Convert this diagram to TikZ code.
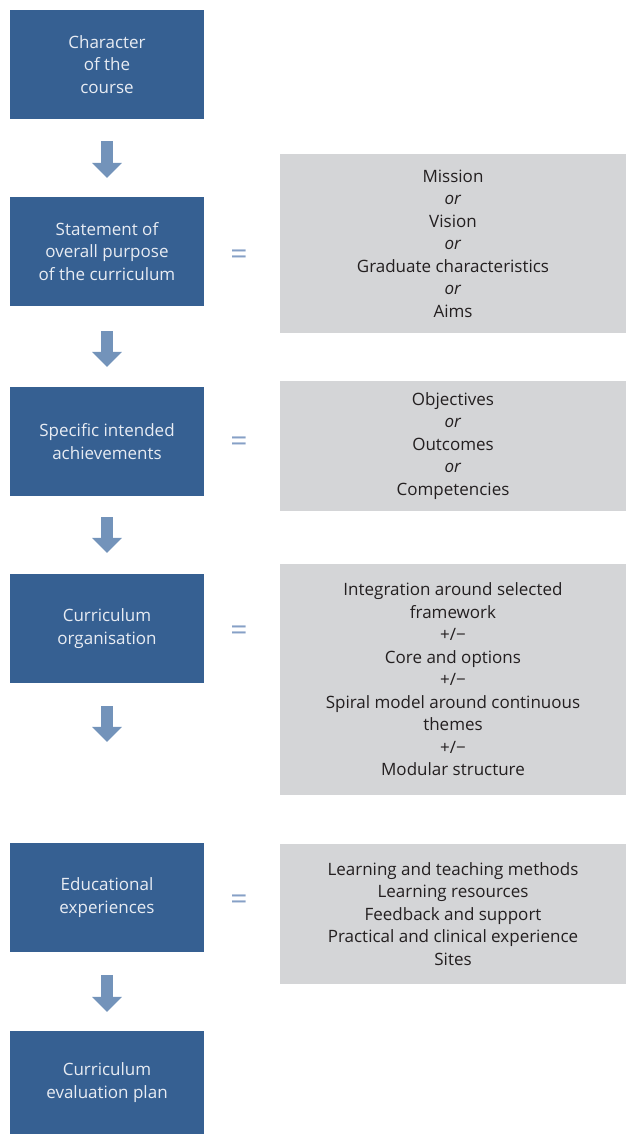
\documentclass[tikz,border=0pt]{standalone}
\usepackage{fontspec}
\setmainfont{Open Sans}
\usetikzlibrary{arrows.meta}
\definecolor{boxblue}{HTML}{366092}
\definecolor{boxgrey}{HTML}{D4D5D7}
\definecolor{arrowblue}{HTML}{7393BA}
\definecolor{eqblue}{HTML}{86A0C6}
\definecolor{paletext}{HTML}{E8ECF3}
\definecolor{darktext}{HTML}{231F20}
\begin{document}
\begin{tikzpicture}[x=1pt, y=-1pt,
    stage/.style={fill=boxblue, text=paletext, minimum width=194pt, minimum height=109pt,
      align=center, inner sep=0pt, font=\fontsize{17}{22.5}\selectfont},
    detail/.style={fill=boxgrey, text=darktext, minimum width=346pt,
      align=center, inner sep=0pt, font=\fontsize{17}{22.5}\selectfont},
    flow/.style={arrowblue, line width=12pt, -{Triangle[width=29pt, length=15pt]}},
    equals/.style={text=eqblue, inner sep=0pt, font=\fontsize{30}{30}\selectfont}]
  \useasboundingbox (0,0) rectangle (626,1134);
  % stages on the left
  \node[stage] (course) at (107,64.5) {Character\\of the\\course};
  \node[stage] (purpose) at (107,251.5) {Statement of\\overall purpose\\of the curriculum};
  \node[stage] (achieve) at (107,441.5) {Specific intended\\achievements};
  \node[stage] (organise) at (107,628.5) {Curriculum\\organisation};
  \node[stage] (experience) at (107,897.5) {Educational\\experiences};
  \node[stage, minimum height=103pt] (evaluation) at (107,1082.5) {Curriculum\\evaluation plan};
  % what each stage means
  \node[detail, minimum height=179pt] (mission) at (453,243.5)
    {Mission\\\textit{or}\\Vision\\\textit{or}\\Graduate characteristics\\\textit{or}\\Aims};
  \node[detail, minimum height=130pt] (objectives) at (453,446)
    {Objectives\\\textit{or}\\Outcomes\\\textit{or}\\Competencies};
  \node[detail, minimum height=231pt] (structure) at (453,679.5)
    {Integration around selected\\framework\\+/−\\Core and options\\+/−\\Spiral model around continuous\\themes\\+/−\\Modular structure};
  \node[detail, minimum height=140pt] (methods) at (453,914)
    {Learning and teaching methods\\Learning resources\\Feedback and support\\Practical and clinical experience\\Sites};
  % equals signs
  \node[equals] (eq1) at (239,257) {=};
  \node[equals] (eq2) at (239,444) {=};
  \node[equals] (eq3) at (239,633) {=};
  \node[equals] (eq4) at (239,902) {=};
  % arrows
  \draw[flow, shorten <=22pt, shorten >=19pt] (course) -- (purpose);
  \draw[flow, shorten <=25pt, shorten >=20pt] (purpose) -- (achieve);
  \draw[flow, shorten <=21pt, shorten >=21pt] (achieve) -- (organise);
  \draw[flow, shorten <=23pt, shorten >=101pt] (organise) -- (experience);
  \draw[flow, shorten <=23pt, shorten >=19pt] (experience) -- (evaluation);
\end{tikzpicture}
\end{document}
